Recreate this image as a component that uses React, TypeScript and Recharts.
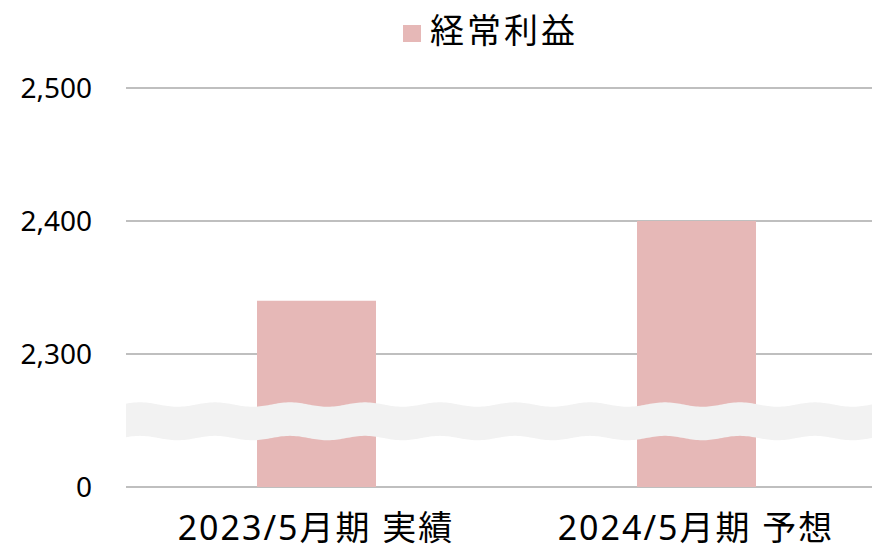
import React from 'react';
import { BarChart, Bar, XAxis, YAxis, CartesianGrid, Legend, ReferenceArea } from 'recharts';

const categories: string[] = ['2023/5月期 実績', '2024/5月期 予想'];
const ordinaryProfit: number[] = [2340, 2400];
const yTickValues: number[] = [0, 2300, 2400, 2500];
const seriesName = '経常利益';

const BAR_COLOR = '#E6B8B7';
const GRID_COLOR = '#BFBFBF';
const BAND_COLOR = '#F2F2F2';
const FONT = "'Noto Sans', 'Noto Sans CJK JP', sans-serif";

// broken axis: each tick interval occupies one axis unit
const toAxis = (v: number): number => {
  for (let i = 0; i < yTickValues.length - 1; i++) {
    const a = yTickValues[i];
    const b = yTickValues[i + 1];
    if (v <= b || i === yTickValues.length - 2) return i + (v - a) / (b - a);
  }
  return 0;
};

const data = categories.map((name, i) => ({
  name,
  value: toAxis(ordinaryProfit[i]),
  raw: ordinaryProfit[i],
}));

const axisTicks = yTickValues.map((_, i) => i);

// break band location inside the first (0 .. 2300) interval
const BREAK_FROM = 0.368;
const BREAK_TO = 0.62;

const WaveBand = (props: any) => {
  const { x, y, width, height } = props;
  const A = 2.2;
  const period = 75;
  const phase = 140;
  const f = (px: number) => -A * Math.cos((2 * Math.PI * (px - phase)) / period);
  const pts: string[] = [];
  const step = 2;
  for (let px = x; px <= x + width; px += step) {
    pts.push(`${px},${(y + f(px)).toFixed(2)}`);
  }
  const bottom: string[] = [];
  for (let px = x + width; px >= x; px -= step) {
    bottom.push(`${px},${(y + height + f(px)).toFixed(2)}`);
  }
  const d = `M${pts.join(' L')} L${bottom.join(' L')} Z`;
  return <path d={d} fill={BAND_COLOR} stroke="none" />;
};

const LegendContent = (props: any) => {
  const item = props.payload && props.payload[0];
  const label = item ? item.value : seriesName;
  const color = item ? item.color : BAR_COLOR;
  return (
    <div style={{ position: 'relative', height: 40, whiteSpace: 'nowrap', fontFamily: FONT }}>
      <span
        style={{
          position: 'absolute',
          left: 0,
          top: 15,
          width: 18,
          height: 17,
          background: color,
        }}
      />
      <span
        style={{
          position: 'absolute',
          left: 27,
          top: 0,
          fontSize: 34,
          lineHeight: '40px',
          letterSpacing: 3,
          color: '#000',
        }}
      >
        {label}
      </span>
    </div>
  );
};

export default function App() {
  return (
    <div
      style={{
        position: 'absolute',
        left: 0,
        top: 0,
        width: 872,
        height: 547,
        overflow: 'hidden',
        background: '#fff',
        fontFamily: FONT,
      }}
    >
      <BarChart
        width={886}
        height={547}
        data={data}
        margin={{ top: 88, right: 0, bottom: 0, left: 0 }}
      >
        <CartesianGrid vertical={false} stroke={GRID_COLOR} strokeWidth={2} />
        <XAxis
          dataKey="name"
          axisLine={false}
          tickLine={false}
          height={60}
          tickMargin={23}
          tick={{ fill: '#000', fontSize: 34, letterSpacing: 2 }}
        />
        <YAxis
          type="number"
          domain={[0, yTickValues.length - 1]}
          ticks={axisTicks}
          tickFormatter={(t: number) => yTickValues[t].toLocaleString('en-US')}
          axisLine={false}
          tickLine={false}
          width={126}
          tickMargin={28}
          tick={{ fill: '#000', fontSize: 28 }}
          interval={0}
        />
        <Legend
          verticalAlign="top"
          content={LegendContent}
          wrapperStyle={{ position: 'absolute', top: 10, left: 403, width: 300, height: 0 }}
        />
        <Bar
          dataKey="value"
          name={seriesName}
          fill={BAR_COLOR}
          barSize={119}
          isAnimationActive={false}
        />
        <ReferenceArea
          y1={BREAK_FROM}
          y2={BREAK_TO}
          ifOverflow="visible"
          shape={WaveBand}
          zIndex={700}
        />
      </BarChart>
    </div>
  );
}
